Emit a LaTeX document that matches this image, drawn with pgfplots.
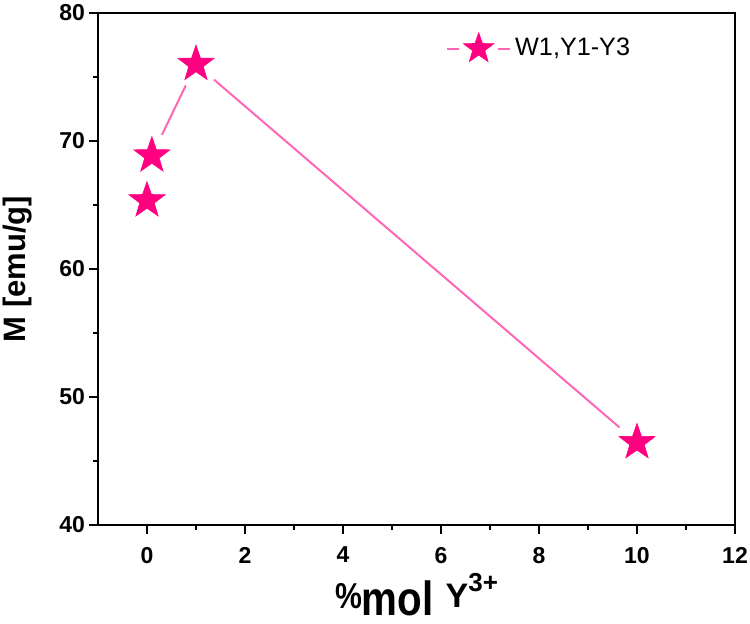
\documentclass[border=0pt]{standalone}
\usepackage{fontspec}
\setmainfont{Liberation Sans}
\usepackage{graphicx}
\usepackage{pgfplots}
\pgfplotsset{compat=1.18}
\definecolor{spink}{RGB}{255,0,128}
\definecolor{lpink}{RGB}{255,102,180}
\pgfdeclareplotmark{fstar}{%
 \pgfpathmoveto{\pgfpointpolar{90}{\pgfplotmarksize}}%
 \pgfpathlineto{\pgfpointpolar{126}{0.40\pgfplotmarksize}}%
 \pgfpathlineto{\pgfpointpolar{162}{\pgfplotmarksize}}%
 \pgfpathlineto{\pgfpointpolar{198}{0.40\pgfplotmarksize}}%
 \pgfpathlineto{\pgfpointpolar{234}{\pgfplotmarksize}}%
 \pgfpathlineto{\pgfpointpolar{270}{0.40\pgfplotmarksize}}%
 \pgfpathlineto{\pgfpointpolar{306}{\pgfplotmarksize}}%
 \pgfpathlineto{\pgfpointpolar{342}{0.40\pgfplotmarksize}}%
 \pgfpathlineto{\pgfpointpolar{18}{\pgfplotmarksize}}%
 \pgfpathlineto{\pgfpointpolar{54}{0.40\pgfplotmarksize}}%
 \pgfpathclose
 \pgfusepathqfillstroke}
\begin{document}
\begin{tikzpicture}
\useasboundingbox (0,0) rectangle (375pt,311.5pt);
\begin{axis}[
  at={(49pt,49pt)}, anchor=south west,
  scale only axis, width=318.5pt, height=256pt,
  xmin=-1, xmax=12, ymin=40, ymax=80,
  xtick={0,2,...,12}, ytick={40,50,...,80},
  minor x tick num=1, minor y tick num=1,
  tick pos=left, tick align=outside,
  major tick length=4.5pt, minor tick length=2.5pt,
  major tick style={line width=1.2pt, black},
  minor tick style={line width=1.0pt, black},
  axis line style={line width=1.4pt, black},
  /pgf/number format/assume math mode=true,
  tick label style={font=\fontsize{11.5}{11.5}\selectfont\bfseries},
  xticklabel style={yshift=-3pt},
  yticklabel style={xshift=1.5pt},
  xlabel={\scalebox{0.84}[1]{{\fontsize{18}{18}\selectfont\raisebox{3.3pt}{\%}}{\fontsize{24}{24}\selectfont mol}}\hspace{6pt}\raisebox{4pt}{\fontsize{17}{17}\selectfont Y\raisebox{8pt}{\fontsize{13}{13}\selectfont 3+}}},
  xlabel style={font=\bfseries, at={(axis description cs:0.5,-0.176)}, anchor=base, inner sep=0pt},
  ylabel={M [emu/g]},
  ylabel style={font=\fontsize{15.5}{15.5}\selectfont\bfseries, at={(axis description cs:-0.127,0.5)}, anchor=center, rotate=0},
  legend style={at={(axis description cs:0.546,0.932)}, anchor=west, draw=none, fill=none, inner sep=0pt,
    font=\fontsize{12.6}{12.6}\selectfont, nodes={inner sep=2pt}},
]
\addplot[lpink, line width=1pt, forget plot] coordinates {(0.1,68.85) (1,76.0) (10,46.45)};
\addplot[white, only marks, mark=*, mark size=11.5pt, mark options={fill=white, draw=white, line width=0pt}, forget plot] coordinates {(0.1,68.85) (1,76.0) (10,46.45)};
\addplot[spink, only marks, mark=fstar, mark size=9.5pt, mark options={fill=spink, draw=spink, line width=0.3pt}, forget plot] coordinates {(0,65.34) (0.1,68.85) (1,76.0) (10,46.45)};
\addlegendimage{legend image code/.code={
  \draw[lpink, line width=1pt] (0pt,0pt) -- (6pt,0pt);
  \draw[lpink, line width=1pt] (25.5pt,0pt) -- (31.5pt,0pt);
  \begin{scope}[shift={(15.75pt,0pt)}]
  \pgfsetplotmarksize{8pt}\pgfsetfillcolor{spink}\pgfsetstrokecolor{spink}\pgfsetlinewidth{0.3pt}
  \pgfuseplotmark{fstar}
  \end{scope}
}}
\addlegendentry{W1,Y1-Y3}
\end{axis}
\end{tikzpicture}
\end{document}
